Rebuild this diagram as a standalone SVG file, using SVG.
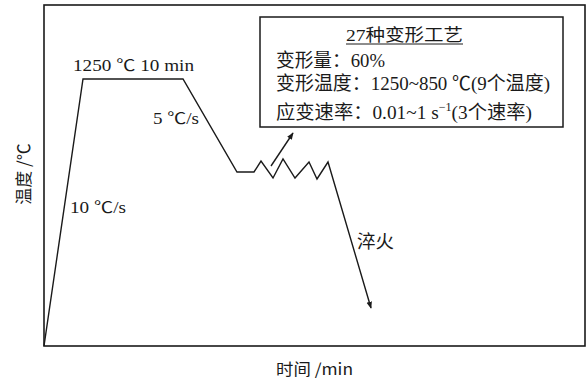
<svg xmlns="http://www.w3.org/2000/svg" width="587" height="380" viewBox="0 0 587 380">
<style>
.t{font-family:"Liberation Serif","Noto Sans CJK SC",serif;fill:#1a1a1a}
.c{font-family:"Noto Sans CJK SC","Liberation Serif",sans-serif;fill:#1a1a1a}
.ln{fill:none;stroke:#1a1a1a;stroke-width:1.4;stroke-linejoin:miter}
</style>
<defs>
<marker id="ah" viewBox="0 0 10 10" refX="9" refY="5" markerWidth="7" markerHeight="7" markerUnits="userSpaceOnUse" orient="auto">
<path d="M0,1 L10,5 L0,9 Z" fill="#1a1a1a"/>
</marker>
</defs>
<rect width="587" height="380" fill="#ffffff"/>
<g id="frame">
<rect x="44" y="5" width="541" height="341" fill="none" stroke="#1a1a1a" stroke-width="1.6"/>
</g>
<g id="axis-labels">
<text class="c" font-size="17" text-anchor="middle" transform="translate(30,174) rotate(-90)">温度 /℃</text>
<text class="c" x="276" y="375" font-size="16" textLength="77" lengthAdjust="spacingAndGlyphs">时间 /min</text>
</g>
<g id="connectors">
<path class="ln" d="M44,346 L83,79 L183,79 L237,172 L254,172 L261,161 L273,178 L283,159 L295,178 L309,162 L317,179 L328,162 L371,308" marker-end="url(#ah)"/>
<path class="ln" d="M271,166 L293,133" stroke-width="1.1" marker-end="url(#ah)"/>
</g>
<g id="labels">
<text class="t" x="73" y="71" font-size="16" textLength="121" lengthAdjust="spacingAndGlyphs">1250 ℃ 10 min</text>
<text class="t" x="153" y="124" font-size="16" textLength="46" lengthAdjust="spacingAndGlyphs">5 ℃/s</text>
<text class="t" x="70" y="213" font-size="16" textLength="56" lengthAdjust="spacingAndGlyphs">10 ℃/s</text>
<text class="c" x="357" y="248" font-size="18" textLength="37" lengthAdjust="spacingAndGlyphs">淬火</text>
</g>
<g id="process-box">
<rect x="260" y="17" width="303" height="110" fill="#ffffff" stroke="#1a1a1a" stroke-width="1.5"/>
<text class="t" x="346" y="41" font-size="17" textLength="117" lengthAdjust="spacingAndGlyphs">27种变形工艺</text>
<line x1="346" y1="44" x2="463" y2="44" stroke="#1a1a1a" stroke-width="1"/>
<text class="t" x="276" y="67" font-size="19" textLength="109" lengthAdjust="spacingAndGlyphs">变形量：60%</text>
<text class="t" x="276" y="90" font-size="19" textLength="274" lengthAdjust="spacingAndGlyphs">变形温度：1250~850 ℃(9个温度)</text>
<text class="t" x="276" y="119" font-size="19" textLength="256" lengthAdjust="spacingAndGlyphs">应变速率：0.01~1 s<tspan font-size="12" dy="-8">−1</tspan><tspan dy="8">(3个速率)</tspan></text>
</g>
</svg>
